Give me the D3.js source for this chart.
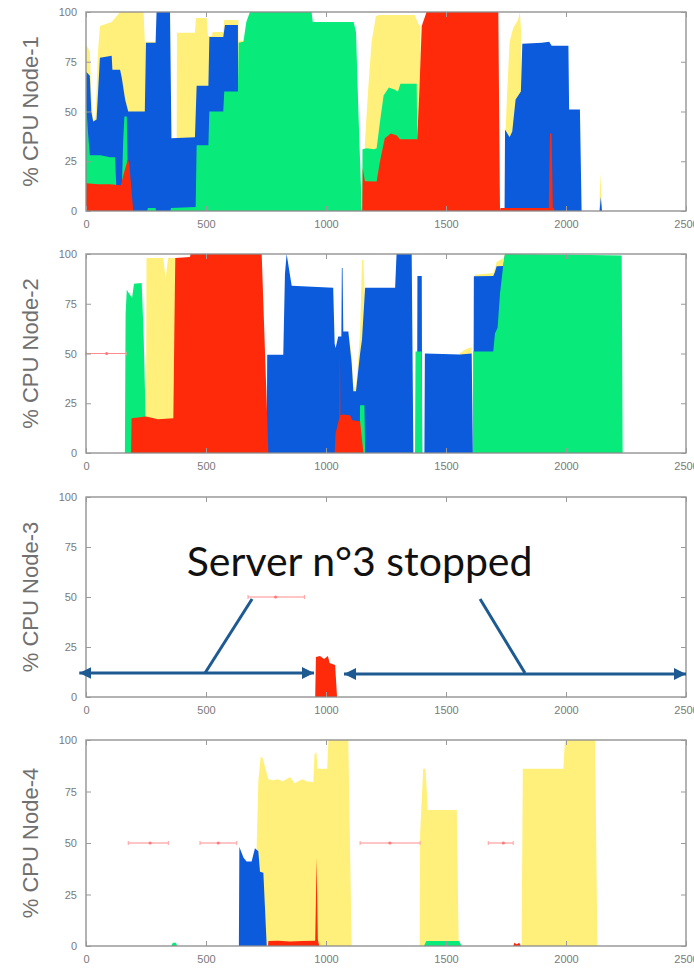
<!DOCTYPE html>
<html>
<head>
<meta charset="utf-8">
<script src="https://cdn.jsdelivr.net/npm/d3@7"></script>
<style>
body { margin: 0; background: #fff; }
svg { display: block; }
.tick text { font-family: "Liberation Sans", Arial, sans-serif; font-size: 11px; fill: #7a7a7a; }
.tick line { stroke: #9a9a9a; }
</style>
</head>
<body>
<script>
// values: [time, cumulative % CPU] for each coloured layer
var xTicks = [0, 500, 1000, 1500, 2000, 2500];
var yTicks = [0, 25, 50, 75, 100];
var nodeLabels = ["% CPU Node-1", "% CPU Node-2", "% CPU Node-3", "% CPU Node-4"];

var node1Yellow = [[0,0],[1,83],[8,82],[16,80],[22,60],[30,45],[40,48],[50,80],[58,93],[107,95],[142,100],[240,100],[245,85],[292,85],[293,0],
  [377,0],[379,89.6],[454,89.6],[458,97],[503,97],[508,88],[524,88],[528,90],[572,90],[576,96],[635,96],[637,85.5],[660,85.5],[662,0],
  [1160,0],[1162,34],[1175,60],[1190,85],[1208,98],[1222,98.5],[1370,98.5],[1385,94],[1394,93],[1396,0],
  [1746,0],[1748,40],[1755,60],[1765,85],[1780,92],[1800,96],[1808,100],[1813,90],[1816,0],
  [2138,0],[2144,19],[2150,0]];
var node1Blue = [[0,0],[1,70],[16,68],[22,50],[30,45],[44,46],[58,77],[107,78],[110,71],[142,71],[149,67],[163,56],[176,50],[245,50],[250,84.5],[290,84.5],[294,100],[350,100],[356,36.5],[454,37],[461,63],[510,63],[514,87.5],[572,87.5],[579,93.5],[633,93.5],[635,0],
  [1744,0],[1746,41],[1765,37],[1776,40],[1790,56],[1812,60],[1818,84],[1900,84.5],[1930,85],[1940,83],[2010,83],[2013,51],[2058,51],[2065,0],
  [2140,0],[2145,7],[2150,0]];
var node1Green = [[0,0],[1,54],[8,40],[16,28],[60,28],[100,27],[121,27],[127,10],[149,10],[155,35],[160,47.5],[170,47.5],[176,0],
  [255,0],[258,1.5],[290,1.5],[292,0],[352,0],[354,1.5],[457,2],[461,33],[510,33],[514,50],[572,50],[576,60],[633,60],[636,84.5],[656,85],[668,95],[683,100],[940,100],[945,95],[1115,95],[1125,90],[1135,50],[1149,0],
  [1151,0],[1152,31],[1170,31.5],[1200,31],[1211,31.5],[1225,45],[1240,58],[1262,62],[1285,61],[1300,60],[1310,64],[1378,64],[1383,0]];
var node1Red = [[0,0],[1,14],[50,13.5],[100,13.5],[145,13],[160,20],[175,26],[180,24],[197,0],
  [1151,0],[1153,21.5],[1162,15],[1211,14.8],[1225,25],[1245,36.5],[1270,39],[1295,38],[1308,36],[1380,36],[1389,60],[1399,93],[1419,100],[1718,100],[1725,0],
  [1727,1.5],[1928,1.5],[1933,39],[1940,39],[1945,1.5],[1950,1.5],[1952,0]];

var node2Yellow = [[250,0],[252,98],[322,98],[332,88],[342,98],[372,98],[374,0],
  [1090,0],[1093,61],[1107,50],[1114,33],[1125,33],[1142,60],[1150,97],[1156,97],[1163,75],[1170,72],[1172,0],
  [1555,0],[1558,50.3],[1580,52],[1600,53],[1607,53],[1610,0],
  [1618,0],[1620,89.6],[1697,90.5],[1704,93],[1711,96],[1739,98],[1746,100],[1748,0]];
var node2Blue = [[753,0],[755,49.4],[822,49.4],[829,90],[836,100],[857,84],[1030,83],[1036,55],[1040,52.8],[1051,58.5],[1064,58.5],[1066,93],[1069,93],[1072,61],[1093,61],[1107,45],[1114,31],[1125,31],[1142,50],[1150,57],[1163,83],[1288,83],[1294,100],[1357,100],[1364,0],
  [1379,0],[1381,89],[1399,89],[1401,0],[1410,0],[1412,50],[1558,49.5],[1607,50],[1612,0],
  [1614,0],[1616,88.8],[1697,89],[1704,91],[1711,93.8],[1739,94],[1746,100],[1748,0]];
var node2Green = [[162,0],[165,70],[170,82],[180,80],[192,78],[200,85],[232,85.4],[240,60],[248,20],[252,0],
  [1140,0],[1142,24],[1160,24],[1163,0],
  [1371,0],[1373,51],[1399,51],[1401,0],
  [1612,0],[1614,51],[1697,51],[1704,60],[1715,63],[1725,80],[1740,96],[1746,100],[2100,99.5],[2232,99.3],[2236,0]];
var node2Red = [[188,0],[190,17.5],[250,18.4],[300,17],[364,17.5],[368,60],[372,98],[433,98.5],[436,100],[732,100],[760,0],
  [1036,0],[1040,10],[1056,18],[1058,53],[1060,19],[1072,19.3],[1100,19],[1110,16.5],[1142,16],[1156,0]];

var node3Red = [[955,0],[958,20],[975,20.5],[992,19],[1008,20.5],[1015,17],[1038,16],[1046,0]];

var node4Yellow = [[709,0],[711,48],[718,80],[728,92],[737,91],[748,86],[760,81],[780,80.5],[800,81],[820,80],[850,82],[870,79],[900,81],[920,80],[947,79.5],[952,93],[960,94],[965,86],[1005,86],[1010,100],[1093,100],[1107,0],
  [1390,0],[1392,54],[1405,86],[1415,86],[1424,66],[1545,66],[1553,0],
  [1815,0],[1820,86],[1989,86],[1995,99],[2003,100],[2121,100],[2131,0]];
var node4Blue = [[637,0],[639,48],[656,43],[669,41],[690,41],[704,47.5],[718,46],[725,36],[739,35.5],[753,0]];
var node4Green = [[355,0],[362,1.6],[375,1.6],[380,0],[1408,0],[1418,2.4],[1555,2.4],[1565,0]];
var node4Red = [[758,0],[760,2.4],[800,2.6],[850,2.2],[900,2.4],[955,2.6],[961,43],[966,3],[972,0],
  [1780,0],[1785,1.6],[1795,0.8],[1805,1.6],[1812,0]];

// red error bars at 50%: [low, centre, high]
var node2Bars = [[0,86,167]];
var node3Bars = [[675,790,910]];
var node4Bars = [[176,267,343],[475,551,628],[1142,1266,1392],[1676,1739,1780]];
var barLevel = 50;

// annotation on node 3 (time, %)
var stopText = "Server n°3 stopped";
var leftArrow = [[-28,12],[950,12]];
var rightArrow = [[1075,11.5],[2500,11.5]];
var leftLeader = [[496,12],[692,49]];
var rightLeader = [[1829,12],[1642,49]];
var textPos = [1140, 60.5];

var colors = { yellow: "#fff07c", blue: "#0b5bdc", green: "#08eb7a", red: "#ff2a0a" };

var panels = [
  { label: nodeLabels[0], top: 12,  bottom: 211, layers: [[node1Yellow,"yellow"],[node1Blue,"blue"],[node1Green,"green"],[node1Red,"red"]], bars: [] },
  { label: nodeLabels[1], top: 254, bottom: 453, layers: [[node2Yellow,"yellow"],[node2Blue,"blue"],[node2Green,"green"],[node2Red,"red"]], bars: node2Bars },
  { label: nodeLabels[2], top: 497, bottom: 697, layers: [[node3Red,"red"]], bars: node3Bars },
  { label: nodeLabels[3], top: 740, bottom: 946, layers: [[node4Yellow,"yellow"],[node4Blue,"blue"],[node4Green,"green"],[node4Red,"red"]], bars: node4Bars }
];

var svg = d3.select("body").append("svg")
            .attr("width", 694)
            .attr("height", 969);

var defs = svg.append("defs");
defs.append("marker")
    .attr("id", "head")
    .attr("viewBox", "0 0 10 10")
    .attr("refX", 10).attr("refY", 5)
    .attr("markerUnits", "userSpaceOnUse")
    .attr("markerWidth", 12).attr("markerHeight", 12)
    .attr("orient", "auto-start-reverse")
    .append("path").attr("d", "M0,0 L10,5 L0,10 z").attr("fill", "#1d5a92");

var x = d3.scaleLinear().domain([0, 2500]).range([86, 686]);

panels.forEach(function(p, i) {
  var y = d3.scaleLinear().domain([0, 100]).range([p.bottom, p.top]);
  var g = svg.append("g");

  var area = d3.area()
               .x(function(d) { return x(d[0]); })
               .y0(y(0))
               .y1(function(d) { return y(d[1]); });

  p.layers.forEach(function(l) {
    g.append("path").datum(l[0]).attr("d", area).attr("fill", colors[l[1]]);
  });

  // error bars
  p.bars.forEach(function(b) {
    var yy = y(barLevel);
    g.append("line").attr("x1", x(b[0])).attr("x2", x(b[2])).attr("y1", yy).attr("y2", yy)
     .attr("stroke", "#ff8c8c").attr("stroke-width", 1);
    [b[0], b[2]].forEach(function(e) {
      g.append("line").attr("x1", x(e)).attr("x2", x(e)).attr("y1", yy - 2).attr("y2", yy + 2)
       .attr("stroke", "#ffa0a0").attr("stroke-width", 1);
    });
    g.append("circle").attr("cx", x(b[1])).attr("cy", yy).attr("r", 1.6).attr("fill", "#ff7a7a");
  });

  // frame
  g.append("rect").attr("x", 86).attr("y", p.top).attr("width", 600).attr("height", p.bottom - p.top)
   .attr("fill", "none").attr("stroke", "#8a8a8a").attr("stroke-width", 1.3);

  g.append("g").call(d3.axisLeft(y).tickValues(yTicks).tickSize(-5).tickPadding(9))
   .attr("transform", "translate(86,0)")
   .call(function(a) { a.select(".domain").remove(); });
  g.append("g").call(d3.axisRight(y).tickValues(yTicks).tickSize(-5).tickFormat(""))
   .attr("transform", "translate(686,0)")
   .call(function(a) { a.select(".domain").remove(); });
  g.append("g").call(d3.axisBottom(x).tickValues(xTicks).tickSize(-5).tickPadding(9).tickFormat(d3.format("d")))
   .attr("transform", "translate(0," + p.bottom + ")")
   .call(function(a) { a.select(".domain").remove(); });
  g.append("g").call(d3.axisTop(x).tickValues(xTicks).tickSize(-5).tickFormat(""))
   .attr("transform", "translate(0," + p.top + ")")
   .call(function(a) { a.select(".domain").remove(); });

  g.append("text")
   .attr("transform", "translate(30," + ((p.top + p.bottom) / 2) + ") rotate(-90)")
   .attr("text-anchor", "middle")
   .attr("dominant-baseline", "central")
   .style("font-family", "'Liberation Sans', Arial, sans-serif")
   .style("font-size", "22px")
   .style("fill", "#707070")
   .text(p.label);

  if (i === 2) {
    var line = d3.line().x(function(d) { return x(d[0]); }).y(function(d) { return y(d[1]); });
    [leftArrow, rightArrow].forEach(function(a) {
      g.append("path").attr("d", line(a)).attr("stroke", "#1d5a92").attr("stroke-width", 3)
       .attr("fill", "none").attr("marker-start", "url(#head)").attr("marker-end", "url(#head)");
    });
    [leftLeader, rightLeader].forEach(function(a) {
      g.append("path").attr("d", line(a)).attr("stroke", "#1d5a92").attr("stroke-width", 3).attr("fill", "none");
    });
    g.append("text")
     .attr("x", x(textPos[0])).attr("y", y(textPos[1]))
     .attr("text-anchor", "middle")
     .style("font-family", "Lato, 'Open Sans', sans-serif")
     .style("font-size", "41px")
     .style("fill", "#111")
     .text(stopText);
  }
});
</script>
</body>
</html>
